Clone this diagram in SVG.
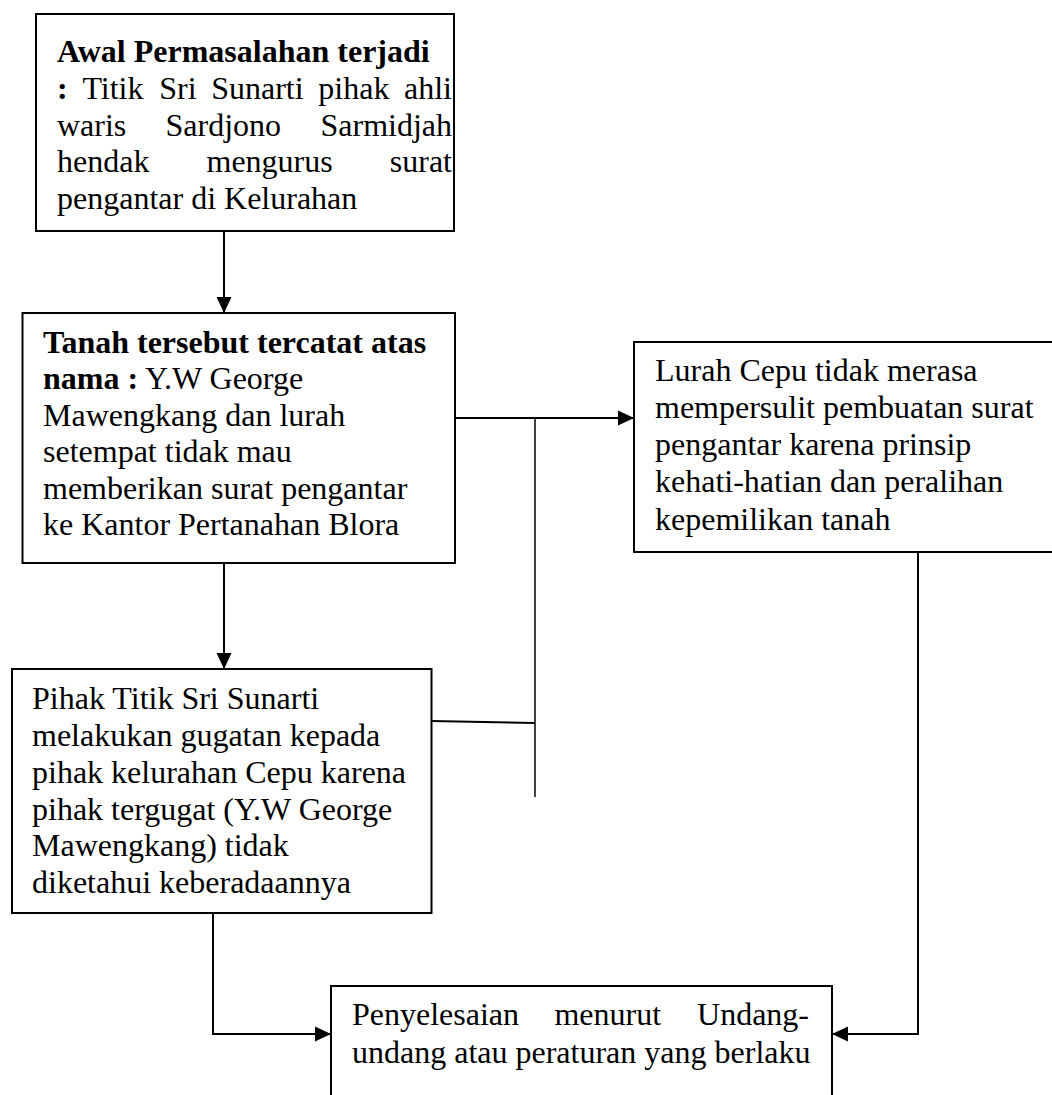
<svg xmlns="http://www.w3.org/2000/svg" width="1052" height="1095" viewBox="0 0 1052 1095">
<style>
.box{fill:#fff;stroke:#000;stroke-width:2}
.t{font-family:"Liberation Serif","Times New Roman",serif;font-size:32px;fill:#000}
.b{font-weight:bold}
.c{fill:none;stroke:#000;stroke-width:2}
.thin{fill:none;stroke:#000;stroke-width:1.5}
</style>
<defs>
<marker id="ah" markerUnits="userSpaceOnUse" markerWidth="17" markerHeight="16" refX="16" refY="8" orient="auto">
<path d="M0,0.5 L16,8 L0,15.5 Z" fill="#000"/>
</marker>
</defs>
<rect width="1052" height="1095" fill="#fff"/>
<g id="connectors">
<line class="c" x1="224" y1="231" x2="224" y2="313" marker-end="url(#ah)"/>
<line class="c" x1="224" y1="563" x2="224" y2="669" marker-end="url(#ah)"/>
<line class="c" x1="455" y1="418" x2="634" y2="418" marker-end="url(#ah)"/>
<line class="thin" x1="535" y1="418" x2="535" y2="797"/>
<line class="c" x1="431" y1="721" x2="535" y2="723"/>
<polyline class="c" points="213,913 213,1034 331,1034" marker-end="url(#ah)"/>
<polyline class="c" points="918,552 918,1034 832,1034" marker-end="url(#ah)"/>
</g>
<g id="node-awal">
<rect class="box" x="36" y="14" width="418" height="217"/>
<text class="t b" x="57" y="62">Awal Permasalahan terjadi</text>
<text class="t" y="99"><tspan class="b" x="57">:</tspan><tspan x="82.4">Titik</tspan><tspan x="159.2">Sri</tspan><tspan x="211.2">Sunarti</tspan><tspan x="318.3">pihak</tspan><tspan x="452" text-anchor="end">ahli</tspan></text>
<text class="t" y="136"><tspan x="57">waris</tspan><tspan x="165.5">Sardjono</tspan><tspan x="452" text-anchor="end">Sarmidjah</tspan></text>
<text class="t" y="172"><tspan x="57">hendak</tspan><tspan x="206.5">mengurus</tspan><tspan x="452" text-anchor="end">surat</tspan></text>
<text class="t" x="57" y="209">pengantar di Kelurahan</text>
</g>
<g id="node-tanah">
<rect class="box" x="22.5" y="313" width="432.5" height="250"/>
<text class="t b" x="43" y="353">Tanah tersebut tercatat atas</text>
<text class="t" x="43" y="389"><tspan class="b">nama :</tspan> Y.W George</text>
<text class="t" x="43" y="426">Mawengkang dan lurah</text>
<text class="t" x="43" y="462">setempat tidak mau</text>
<text class="t" x="43" y="499">memberikan surat pengantar</text>
<text class="t" x="43" y="535">ke Kantor Pertanahan Blora</text>
</g>
<g id="node-lurah">
<rect class="box" x="634" y="342" width="440" height="210"/>
<text class="t" x="655" y="381">Lurah Cepu tidak merasa</text>
<text class="t" x="655" y="418">mempersulit pembuatan surat</text>
<text class="t" x="655" y="455">pengantar karena prinsip</text>
<text class="t" x="655" y="492">kehati-hatian dan peralihan</text>
<text class="t" x="655" y="530">kepemilikan tanah</text>
</g>
<g id="node-gugatan">
<rect class="box" x="12" y="669" width="419.5" height="244"/>
<text class="t" x="32" y="709">Pihak Titik Sri Sunarti</text>
<text class="t" x="32" y="746">melakukan gugatan kepada</text>
<text class="t" x="32" y="783">pihak kelurahan Cepu karena</text>
<text class="t" x="32" y="820">pihak tergugat (Y.W George</text>
<text class="t" x="32" y="856">Mawengkang) tidak</text>
<text class="t" x="32" y="893">diketahui keberadaannya</text>
</g>
<g id="node-penyelesaian">
<rect class="box" x="331" y="986" width="501" height="130"/>
<text class="t" y="1025"><tspan x="352">Penyelesaian</tspan><tspan x="554.4">menurut</tspan><tspan x="809" text-anchor="end">Undang-</tspan></text>
<text class="t" x="352" y="1063">undang atau peraturan yang berlaku</text>
</g>
</svg>
